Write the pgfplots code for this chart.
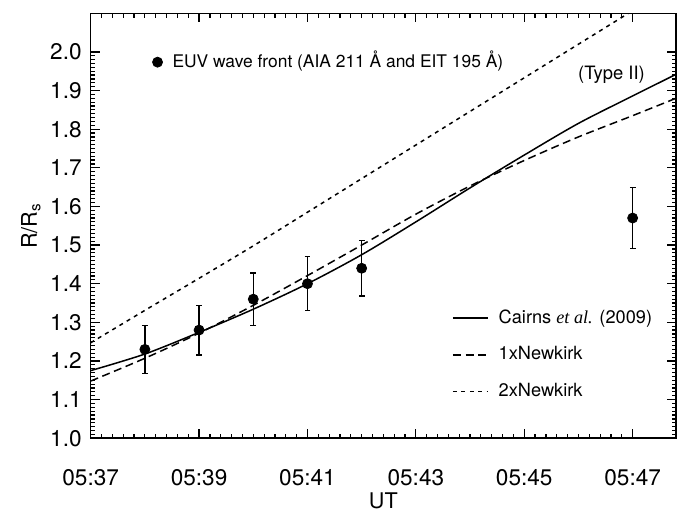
\documentclass[border=0pt]{standalone}
\usepackage{fontspec}
\setmainfont{TeX Gyre Heros}
\newfontfamily\serifit{Liberation Serif}
\usepackage{pgfplots}
\pgfplotsset{compat=1.18}
\usetikzlibrary{calc}

\pgfplotstableread{
x y e
38 1.23 0.062
39 1.28 0.064
40 1.36 0.068
41 1.40 0.070
42 1.44 0.072
47 1.57 0.079
}\euvdata

\pgfplotstableread{
x y
37 1.175
38 1.218
39 1.274
40 1.334
41 1.400
42 1.475
43 1.560
44 1.648
45 1.733
46 1.815
47 1.886
47.8 1.942
}\cairns

\pgfplotstableread{
x y
37 1.148
38 1.207
39 1.272
40 1.344
41 1.421
42 1.500
43 1.580
44 1.653
45 1.719
46 1.780
47 1.835
47.8 1.880
}\newkone

\pgfplotstableread{
x y
37 1.247
38 1.331
39 1.414
40 1.498
41 1.585
42 1.672
43 1.759
44 1.846
45 1.933
46 2.020
47 2.107
47.8 2.180
}\newktwo

\begin{document}
\begin{tikzpicture}
\pgfplotsset{
  common/.style={
    scale only axis, width=292.7pt, height=212.5pt,
    xmin=37, xmax=47.8, ymin=1.0, ymax=2.1,
  }
}
\begin{axis}[
  common, name=ax,
  axis line style={line width=0.75pt},
  xtick={37,39,41,43,45,47},
  xticklabels={05:37,05:39,05:41,05:43,05:45,05:47},
  minor x tick num=9,
  ytick={1.0,1.1,1.2,1.3,1.4,1.5,1.6,1.7,1.8,1.9,2.0},
  minor y tick num=9,
  yticklabel style={xshift=-1pt, /pgf/number format/.cd, fixed, fixed zerofill, precision=1, assume math mode=true},
  tick label style={font=\fontsize{11.3}{13}\selectfont},
  xticklabel style={yshift=-12pt},
  major tick length=4.5pt, minor tick length=2.2pt,
  tick style={line width=0.6pt, black},
  xlabel={UT}, ylabel={R/R\textsubscript{s}},
  label style={font=\fontsize{10.8}{12}\selectfont},
  xlabel style={at={(axis description cs:0.5,0)}, anchor=center, yshift=-31.5pt},
  ylabel style={yshift=-2pt},
  legend cell align=left,
  legend style={draw=none, fill=none, at={(0.617,0.305)}, anchor=north west,
    font=\fontsize{9.1}{11}\selectfont, row sep=9.4pt, inner sep=0pt,
    nodes={inner sep=0pt, text height=7pt, text depth=2pt}},
  legend image code/.code={\draw[#1] (0pt,0pt) -- (17.5pt,0pt);},
  every axis legend/.append style={column sep=0pt},
]
\addplot[black, line width=0.75pt, smooth, tension=0.5] table[x=x,y=y] {\cairns};
\addlegendentry{\hspace{5pt}Cairns {\serifit\itshape et al.} (2009)}
\addplot[black, line width=0.75pt, smooth, tension=0.5, dash pattern=on 4pt off 2.3pt] table[x=x,y=y] {\newkone};
\addlegendentry{\hspace{5pt}1xNewkirk}
\addplot[black, line width=0.75pt, smooth, tension=0.5, dash pattern=on 2pt off 2.2pt] table[x=x,y=y] {\newktwo};
\addlegendentry{\hspace{5pt}2xNewkirk}
\node[font=\fontsize{9.2}{11}\selectfont] at (axis cs:46.61,1.94) {(Type II)};
\end{axis}
\begin{axis}[
  common, hide axis,
  legend cell align=left,
  legend style={draw=none, fill=none, at={(0.105,0.885)}, anchor=west,
    font=\fontsize{8.7}{11}\selectfont, inner sep=0pt,
    nodes={inner sep=0pt, text height=7pt, text depth=2pt}},
  legend image code/.code={\draw[#1] plot coordinates {(0pt,0pt)};},
]
\addplot[black, only marks, mark=*, mark size=2.5pt,
  error bars/.cd, y dir=both, y explicit,
  error bar style={line width=0.75pt, black},
  error mark options={rotate=90, mark size=1.45pt, line width=0.75pt, black}]
  table[x=x, y=y, y error=e] {\euvdata};
\addlegendentry{\hspace{5pt}EUV wave front (AIA 211 Å and EIT 195 Å)}
\end{axis}
\pgfresetboundingbox
\useasboundingbox ($(ax.south west)+(-45.35pt,-36.35pt)$) rectangle ($(ax.north east)+(4.5pt,6.65pt)$);
\end{tikzpicture}
\end{document}
